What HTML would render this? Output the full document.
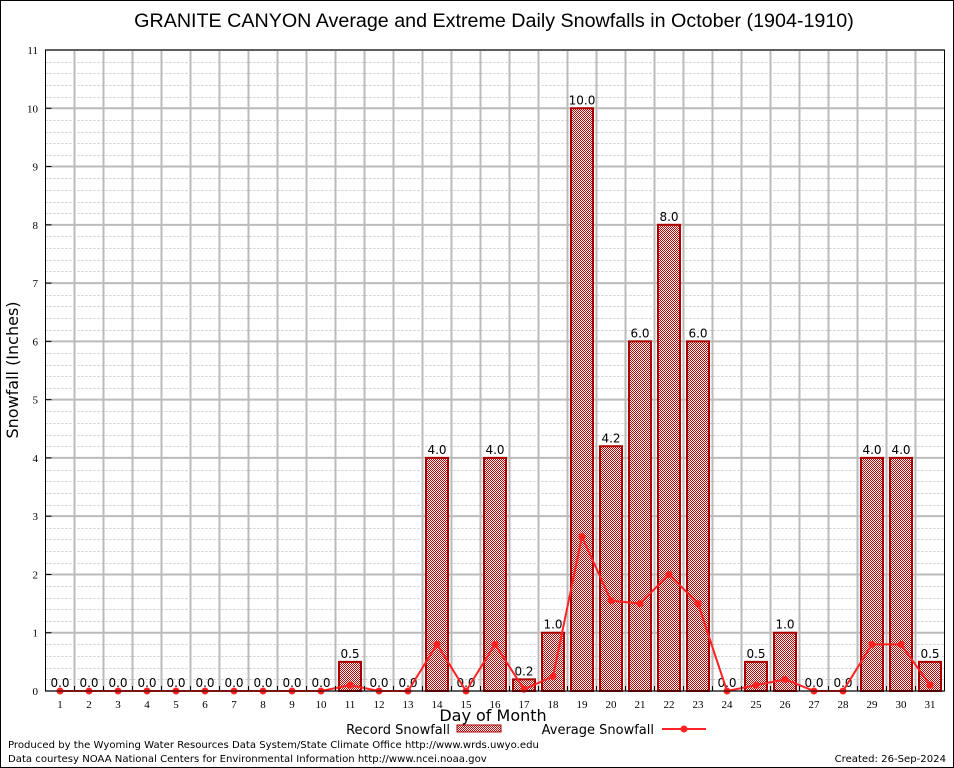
<!DOCTYPE html>
<html><head><meta charset="utf-8"><style>
body{margin:0;background:#fff}
svg{display:block;font-family:"DejaVu Sans","Liberation Sans",sans-serif}
</style></head><body>
<svg id="c" width="954" height="768" viewBox="0 0 954 768">
<defs>
<pattern id="chk" width="2" height="2" patternUnits="userSpaceOnUse">
<rect width="2" height="2" fill="#fff"/><rect width="1" height="1" fill="#b00"/><rect x="1" y="1" width="1" height="1" fill="#b00"/>
</pattern>
</defs>
<rect x="0.5" y="0.5" width="953" height="767" fill="#fff" stroke="#000"/>
<text x="494" y="27" font-size="19.7" text-anchor="middle" font-family="Liberation Sans, sans-serif">GRANITE CANYON Average and Extreme Daily Snowfalls in October (1904-1910)</text>
<g id="grid"></g>
<g id="bars"></g>
<g id="line"></g>
<g id="axes"></g>
<text x="18" y="370" font-size="16" text-anchor="middle" transform="rotate(-90 18 370)">Snowfall (Inches)</text>
<text x="493" y="721" font-size="16" text-anchor="middle">Day of Month</text>
<g>
<text x="450" y="734" font-size="13" text-anchor="end">Record Snowfall</text>
<rect x="457" y="725" width="44" height="7" fill="url(#chk)" stroke="#a00"/>
<text x="654" y="734" font-size="13" text-anchor="end">Average Snowfall</text>
<line x1="662" y1="729" x2="706" y2="729" stroke="#f22" stroke-width="2"/>
<circle cx="684" cy="729" r="3.5" fill="#f22"/>
</g>
<text x="8" y="748" font-size="10.1">Produced by the Wyoming Water Resources Data System/State Climate Office http://www.wrds.uwyo.edu</text>
<text x="8" y="762" font-size="10.1">Data courtesy NOAA National Centers for Environmental Information http://www.ncei.noaa.gov</text>
<text x="946" y="762" font-size="10.1" text-anchor="end">Created:  26-Sep-2024</text>
</svg>
<script>
const days=[1,2,3,4,5,6,7,8,9,10,11,12,13,14,15,16,17,18,19,20,21,22,23,24,25,26,27,28,29,30,31];
const recordVals=[0,0,0,0,0,0,0,0,0,0,0.5,0,0,4.0,0,4.0,0.2,1.0,10.0,4.2,6.0,8.0,6.0,0,0.5,1.0,0,0,4.0,4.0,0.5];
const avgVals=[0,0,0,0,0,0,0,0,0,0,0.1,0,0,0.8,0,0.8,0.03,0.25,2.65,1.55,1.5,2.0,1.5,0,0.1,0.2,0,0,0.8,0.8,0.1];
const yTicks=[0,1,2,3,4,5,6,7,8,9,10,11];
const L=45.5,R=944.5,T=50,B=691;
const x=d=>60+(d-1)*29;
const y=v=>B-v*(B-T)/11;
const NS="http://www.w3.org/2000/svg";
function mk(p,t,a){const e=document.createElementNS(NS,t);for(const k in a)e.setAttribute(k,a[k]);p.appendChild(e);return e;}
const grid=document.getElementById('grid'),bars=document.getElementById('bars'),line=document.getElementById('line'),axes=document.getElementById('axes');
for(let v=0;v<11;v+=0.2){if(Math.abs(v-Math.round(v))<1e-6)continue;
const g=mk(grid,'line',{x1:L,x2:R,y1:Math.round(y(v))+0.5,y2:Math.round(y(v))+0.5,stroke:'#c8c8c8','stroke-width':1,'stroke-dasharray':'2,2'});

}
yTicks.forEach(v=>{
const g=mk(grid,'line',{x1:L,x2:R,y1:y(v),y2:y(v),stroke:'#bbb','stroke-width':2});


const t=mk(axes,'text',{x:38,y:y(v)+4,'font-size':11,'text-anchor':'end','font-family':'Liberation Serif, serif'});t.textContent=v;


mk(axes,'line',{x1:L,x2:L+6,y1:y(v),y2:y(v),stroke:'#000'});
});
days.forEach(d=>{if(d<31){
const g=mk(grid,'line',{x1:x(d)+14.5,x2:x(d)+14.5,y1:T,y2:B,stroke:'#bbb','stroke-width':2});

}
mk(axes,'line',{x1:x(d)+14.5,x2:x(d)+14.5,y1:B,y2:B-5,stroke:'#000'});
const t=mk(axes,'text',{x:x(d),y:B+17,'font-size':11,'text-anchor':'middle','font-family':'Liberation Serif, serif'});t.textContent=d;


});
mk(axes,'rect',{x:L,y:T,width:R-L,height:B-T,fill:'none',stroke:'#000'});
days.forEach((d,i)=>{const v=recordVals[i];
if(v>0){const b=mk(bars,'rect',{x:x(d)-11,y:y(v),width:22,height:B-y(v),fill:'url(#chk)',stroke:'#a00','stroke-width':2});

}
const t=mk(bars,'text',{x:x(d),y:y(v)-4,'font-size':12,'text-anchor':'middle'});t.textContent=v.toFixed(1);


});
const pl=mk(line,'polyline',{points:days.map((d,i)=>x(d)+','+y(avgVals[i])).join(' '),fill:'none',stroke:'#f22','stroke-width':2});


days.forEach((d,i)=>{const c=mk(line,'circle',{cx:x(d),cy:y(avgVals[i]),r:3.5,fill:'#f22'});

});
</script>
</body></html>
